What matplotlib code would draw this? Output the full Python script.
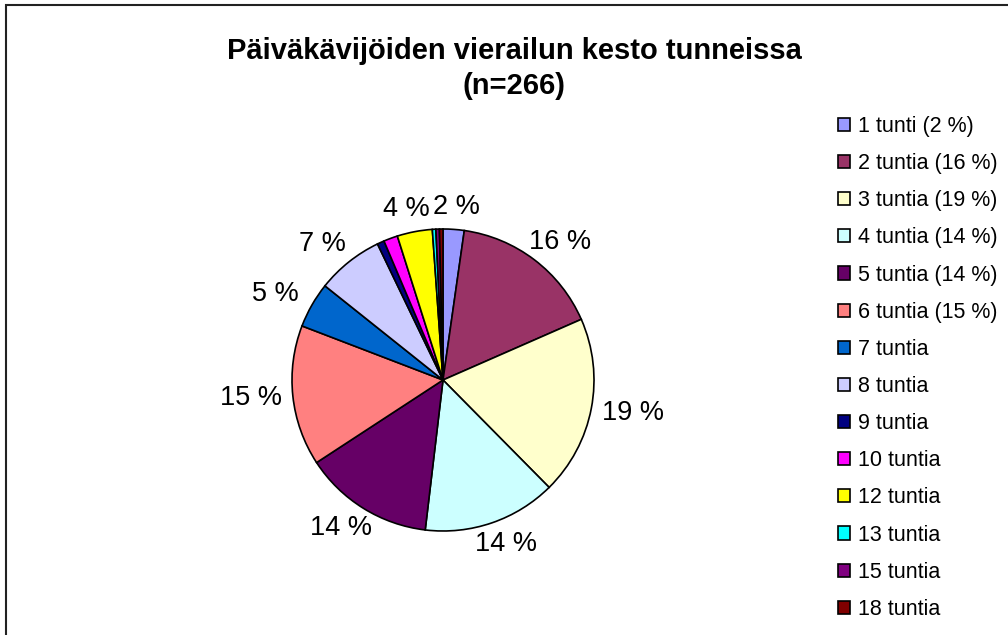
import numpy as np
import matplotlib
matplotlib.use('Agg')
import matplotlib.pyplot as plt
from matplotlib.patches import Rectangle

plt.rcParams['font.family'] = ['Liberation Sans', 'DejaVu Sans']

# data (n=266)
hours = ['1 tunti', '2 tuntia', '3 tuntia', '4 tuntia', '5 tuntia', '6 tuntia', '7 tuntia',
         '8 tuntia', '9 tuntia', '10 tuntia', '12 tuntia', '13 tuntia', '15 tuntia', '18 tuntia']
counts = [6, 43, 51, 38, 37, 40, 13, 19, 2, 4, 10, 1, 1, 1]
show_label = [1, 1, 1, 1, 1, 1, 1, 1, 0, 0, 1, 0, 0, 0]
pct_in_legend = [1, 1, 1, 1, 1, 1, 0, 0, 0, 0, 0, 0, 0, 0]
colors = ['#9999FF', '#993366', '#FFFFCC', '#CCFFFF', '#660066', '#FF8080', '#0066CC',
          '#CCCCFF', '#000080', '#FF00FF', '#FFFF00', '#00FFFF', '#800080', '#800000']

n = sum(counts)
pcts = [round(100 * c / n) for c in counts]

W, H = 1008, 635
fig = plt.figure(figsize=(W / 100, H / 100), dpi=100)

# pie axes: centre (443, 380) px, radius 151 px
cx, cy, R = 443, 380, 151
ax = fig.add_axes([(cx - R) / W, (H - cy - R) / H, 2 * R / W, 2 * R / H])
wedges, _ = ax.pie(counts, colors=colors, startangle=90, counterclock=False,
                   wedgeprops=dict(edgecolor='black', linewidth=1.2))
ax.set_xlim(-1, 1)
ax.set_ylim(-1, 1)
ax.set_aspect('equal')
ax.axis('off')

# percent labels outside the pie
for w, p, s in zip(wedges, pcts, show_label):
    if not s:
        continue
    ang = np.radians((w.theta1 + w.theta2) / 2)
    dx, dy = np.cos(ang), np.sin(ang)
    x = 1.08 * dx + 0.2 * dx
    y = 1.08 * dy + 0.07 * dy
    ax.text(x, y, f'{p} %', ha='center', va='center', fontsize=19.5, clip_on=False)

fig.text(514 / W, 1 - 51 / H, 'Päiväkävijöiden vierailun kesto tunneissa',
         ha='center', va='center', fontsize=21, fontweight='bold')
fig.text(514 / W, 1 - 86 / H, '(n=266)',
         ha='center', va='center', fontsize=21, fontweight='bold')

leg_labels = [f'{h} ({p} %)' if f else h for h, p, f in zip(hours, pcts, pct_in_legend)]
fig.legend(wedges, leg_labels, loc='upper left', bbox_to_anchor=(838 / W, 1 - 116 / H),
           frameon=False, fontsize=15.5, handlelength=0.56, handleheight=0.56,
           handletextpad=0.37, labelspacing=0.75, borderpad=0, borderaxespad=0)

# chart border (only left/top visible)
fig.patches.append(Rectangle((6 / W, -0.1), 1.2, 1.1 - 5 / H, transform=fig.transFigure,
                             fill=False, edgecolor='#222222', linewidth=1.5))

fig.savefig('out.png', dpi=100, facecolor='white')
